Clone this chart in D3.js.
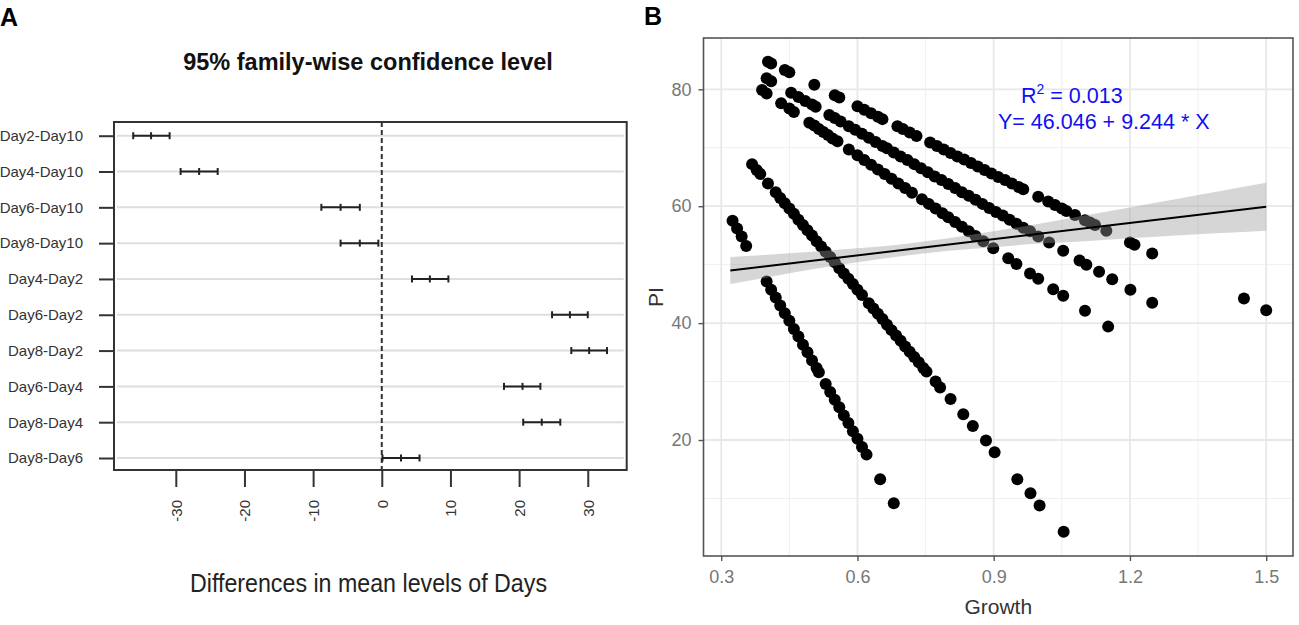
<!DOCTYPE html>
<html>
<head>
<meta charset="utf-8">
<script src="https://cdn.jsdelivr.net/npm/d3@7"></script>
<style>
body { margin: 0; background: #fff; }
svg text { font-family: "Liberation Sans", Arial, sans-serif; }
</style>
</head>
<body>
<div id="chart"></div>
<script>
// ---- panel A: Tukey HSD intervals ----
var comparisons = ["Day2-Day10", "Day4-Day10", "Day6-Day10", "Day8-Day10", "Day4-Day2",
                   "Day6-Day2", "Day8-Day2", "Day6-Day4", "Day8-Day4", "Day8-Day6"];
var diffs  = [-33.6, -26.6, -6.0, -3.2, 7.0, 27.4, 30.2, 20.5, 23.3, 2.8];
var lowers = [-36.2, -29.3, -8.8, -6.0, 4.4, 24.8, 27.6, 17.8, 20.6, 0.1];
var uppers = [-30.9, -23.9, -3.2, -0.5, 9.7, 30.0, 32.8, 23.1, 26.0, 5.5];
var diffTicks = [-30, -20, -10, 0, 10, 20, 30];

// ---- panel B: PI vs Growth ----
var stripeA = [[0.403,84.7],[0.41,84.4],[0.44,83.3],[0.45,82.9],[0.505,80.8],[0.55,79.0],[0.56,78.6],
  [0.60,77.1],[0.615,76.5],[0.63,75.9],[0.645,75.3],[0.655,74.9],[0.688,73.7],[0.70,73.2],[0.715,72.6],
  [0.73,72.0],[0.76,70.9],[0.775,70.3],[0.79,69.7],[0.805,69.1],[0.82,68.5],[0.835,68.0],[0.85,67.4],
  [0.865,66.8],[0.88,66.2],[0.895,65.6],[0.91,65.0],[0.925,64.5],[0.94,63.9],[0.955,63.3],[0.965,62.9],
  [0.998,61.6],[1.02,60.8],[1.035,60.2],[1.05,59.6],[1.06,59.2],[1.079,58.5],[1.101,57.6],[1.112,57.2],
  [1.123,56.8],[1.148,55.8],[1.20,53.8],[1.21,53.4],[1.249,51.9]];
var stripeB = [[0.40,81.9],[0.41,81.4],[0.454,79.4],[0.47,78.7],[0.485,78.0],[0.50,77.4],[0.508,77.0],
  [0.538,75.6],[0.55,75.1],[0.563,74.5],[0.581,73.7],[0.595,73.1],[0.61,72.4],[0.625,71.7],[0.64,71.0],
  [0.655,70.3],[0.665,69.9],[0.68,69.2],[0.695,68.5],[0.71,67.9],[0.725,67.2],[0.74,66.5],[0.755,65.8],
  [0.77,65.1],[0.785,64.5],[0.80,63.8],[0.815,63.1],[0.83,62.4],[0.845,61.8],[0.86,61.1],[0.875,60.4],
  [0.89,59.7],[0.905,59.0],[0.92,58.4],[0.935,57.7],[0.95,57.0],[0.965,56.3],[0.98,55.7],[0.998,54.8],
  [1.022,53.8],[1.053,52.4],[1.089,50.7],[1.104,50.0],[1.132,48.8],[1.161,47.5],[1.201,45.7],[1.249,43.5]];
var stripeC = [[0.39,79.9],[0.40,79.3],[0.432,77.6],[0.45,76.7],[0.46,76.1],[0.494,74.3],[0.505,73.8],
  [0.515,73.2],[0.525,72.7],[0.535,72.2],[0.545,71.6],[0.556,71.1],[0.581,69.7],[0.60,68.7],[0.615,67.9],
  [0.63,67.1],[0.645,66.3],[0.66,65.5],[0.675,64.7],[0.69,63.9],[0.705,63.1],[0.72,62.3],[0.742,61.2],
  [0.757,60.4],[0.772,59.6],[0.787,58.8],[0.80,58.1],[0.815,57.3],[0.83,56.5],[0.845,55.7],[0.86,54.9],
  [0.877,54.0],[0.899,52.8],[0.932,51.1],[0.95,50.1],[0.98,48.5],[0.998,47.6],[1.031,45.8],[1.053,44.7],
  [1.101,42.1],[1.152,39.4]];
var stripeD = [[0.368,67.2],[0.378,66.2],[0.386,65.5],[0.403,63.9],[0.42,62.4],[0.43,61.4],[0.44,60.5],
  [0.45,59.6],[0.46,58.7],[0.47,57.7],[0.48,56.8],[0.49,55.9],[0.50,55.0],[0.51,54.0],[0.52,53.1],
  [0.53,52.2],[0.54,51.3],[0.55,50.4],[0.56,49.4],[0.57,48.5],[0.58,47.6],[0.59,46.7],[0.60,45.7],
  [0.61,44.8],[0.625,43.4],[0.635,42.5],[0.645,41.6],[0.655,40.7],[0.665,39.7],[0.675,38.8],[0.685,37.9],
  [0.695,37.0],[0.705,36.0],[0.715,35.1],[0.725,34.2],[0.735,33.3],[0.745,32.3],[0.752,31.7],[0.772,30.0],
  [0.782,29.0],[0.805,27.0],[0.833,24.4],[0.854,22.4],[0.883,19.9],[0.902,17.9],[0.952,13.3],[0.981,10.9],
  [1.001,8.8],[1.054,4.3]];
var stripeE = [[0.325,57.5],[0.335,56.2],[0.345,54.8],[0.355,53.2],[0.40,47.1],[0.41,45.7],[0.42,44.4],
  [0.43,43.0],[0.44,41.7],[0.45,40.4],[0.46,39.0],[0.47,37.7],[0.48,36.3],[0.49,35.0],[0.50,33.6],
  [0.51,32.3],[0.515,31.6],[0.53,29.6],[0.54,28.2],[0.55,26.9],[0.56,25.6],[0.57,24.2],[0.58,22.9],
  [0.59,21.5],[0.60,20.2],[0.61,18.8],[0.62,17.5],[0.65,13.3],[0.68,9.2]];
var loners = [[1.451,44.2],[1.50,42.2]];

var bandGrowth = [0.32, 0.4, 0.5, 0.6, 0.7, 0.8, 0.9, 1.0, 1.1, 1.2, 1.3, 1.4, 1.5];
var bandLower  = [46.7, 47.8, 49.2, 50.4, 51.5, 52.4, 53.0, 53.6, 54.0, 54.5, 55.0, 55.4, 55.8];
var bandUpper  = [51.3, 51.7, 52.2, 52.8, 53.5, 54.5, 55.7, 57.0, 58.4, 59.8, 61.2, 62.6, 64.0];
var fitGrowth = [0.32, 1.5];
var fitPI = [49.0, 59.9];

var growthTicks = [0.3, 0.6, 0.9, 1.2, 1.5];
var growthMinor = [0.45, 0.75, 1.05, 1.35];
var piTicks = [20, 40, 60, 80];
var piMinor = [10, 30, 50, 70];

var width = 1299;
var height = 625;

var svg = d3.select("#chart")
    .append("svg")
    .attr("width", width)
    .attr("height", height)
    .style("background", "#fff");

drawTukey();
drawScatter();

function drawTukey() {
    var box = {left: 114, right: 626.7, top: 122, bottom: 470};

    var x = d3.scaleLinear().domain([-39.0, 35.67]).range([box.left, box.right]);
    var y = d3.scaleLinear().domain([0.617, 10.335]).range([box.top, box.bottom]);
    var rows = comparisons.map((c, i) => i + 1);

    var g = svg.append("g").attr("class", "panel-a");

    // light guide lines per comparison
    g.selectAll(".guide")
        .data(rows)
        .enter()
        .append("line")
        .attr("x1", box.left + 3)
        .attr("x2", box.right - 3)
        .attr("y1", d => y(d))
        .attr("y2", d => y(d))
        .attr("stroke", "#dedede")
        .attr("stroke-width", 2);

    // zero reference
    g.append("line")
        .attr("x1", x(0)).attr("x2", x(0))
        .attr("y1", box.top).attr("y2", box.bottom)
        .attr("stroke", "#333")
        .attr("stroke-width", 2)
        .attr("stroke-dasharray", "5,3");

    // intervals
    var bars = g.selectAll(".ci")
        .data(comparisons)
        .enter()
        .append("g")
        .attr("class", "ci")
        .attr("stroke", "#222")
        .attr("stroke-width", 2);

    bars.append("line")
        .attr("x1", (d, i) => x(lowers[i]))
        .attr("x2", (d, i) => x(uppers[i]))
        .attr("y1", (d, i) => y(i + 1))
        .attr("y2", (d, i) => y(i + 1));

    [lowers, diffs, uppers].forEach(function(vals) {
        bars.append("line")
            .attr("x1", (d, i) => x(vals[i]))
            .attr("x2", (d, i) => x(vals[i]))
            .attr("y1", (d, i) => y(i + 1) - 3.5)
            .attr("y2", (d, i) => y(i + 1) + 3.5);
    });

    g.append("rect")
        .attr("x", box.left).attr("y", box.top)
        .attr("width", box.right - box.left)
        .attr("height", box.bottom - box.top)
        .attr("fill", "none")
        .attr("stroke", "#333")
        .attr("stroke-width", 2);

    var yAxis = g.append("g")
        .attr("transform", `translate(${box.left},0)`)
        .call(d3.axisLeft(y).tickValues(rows).tickFormat(d => comparisons[d - 1]).tickSize(15).tickPadding(16));
    yAxis.select(".domain").remove();
    yAxis.selectAll("line").attr("stroke", "#333").attr("stroke-width", 2);
    yAxis.selectAll("text").attr("font-size", 15).attr("fill", "#333")
        .style("font-family", '"Liberation Sans", Arial, sans-serif');

    var xAxis = g.append("g")
        .attr("transform", `translate(0,${box.bottom})`)
        .call(d3.axisBottom(x).tickValues(diffTicks).tickFormat(d3.format("d")).tickSize(17));
    xAxis.select(".domain").remove();
    xAxis.selectAll("line").attr("stroke", "#333").attr("stroke-width", 2);
    xAxis.selectAll("text")
        .attr("transform", "rotate(-90)")
        .attr("text-anchor", "end")
        .attr("x", -30)
        .attr("y", 0)
        .attr("dy", "0.35em")
        .attr("font-size", 15)
        .attr("fill", "#333")
        .style("font-family", '"Liberation Sans", Arial, sans-serif')
        .text(d => String(d));

    svg.append("text")
        .attr("x", 368).attr("y", 70)
        .attr("text-anchor", "middle")
        .attr("font-size", 23.5)
        .attr("font-weight", "bold")
        .attr("fill", "#111")
        .text("95% family-wise confidence level");

    svg.append("text")
        .attr("x", 190).attr("y", 592)
        .attr("font-size", 26)
        .attr("textLength", 357)
        .attr("lengthAdjust", "spacingAndGlyphs")
        .attr("fill", "#222")
        .text("Differences in mean levels of Days");

    svg.append("text")
        .attr("x", 0).attr("y", 26)
        .attr("font-size", 25)
        .attr("font-weight", "bold")
        .text("A");
}

function drawScatter() {
    var panel = {left: 703.5, right: 1293, top: 38, bottom: 556};

    var x = d3.scaleLinear().domain([0.261, 1.559]).range([panel.left, panel.right]);
    var y = d3.scaleLinear().domain([0.155, 88.78]).range([panel.bottom, panel.top]);

    var g = svg.append("g").attr("class", "panel-b");

    g.append("rect")
        .attr("x", panel.left).attr("y", panel.top)
        .attr("width", panel.right - panel.left)
        .attr("height", panel.bottom - panel.top)
        .attr("fill", "#fff");

    // grid
    g.selectAll(".vminor").data(growthMinor).enter().append("line")
        .attr("x1", d => x(d)).attr("x2", d => x(d))
        .attr("y1", panel.top).attr("y2", panel.bottom)
        .attr("stroke", "#efefef").attr("stroke-width", 1);
    g.selectAll(".hminor").data(piMinor).enter().append("line")
        .attr("y1", d => y(d)).attr("y2", d => y(d))
        .attr("x1", panel.left).attr("x2", panel.right)
        .attr("stroke", "#efefef").attr("stroke-width", 1);
    g.selectAll(".vmajor").data(growthTicks).enter().append("line")
        .attr("x1", d => x(d)).attr("x2", d => x(d))
        .attr("y1", panel.top).attr("y2", panel.bottom)
        .attr("stroke", "#e8e8e8").attr("stroke-width", 1.8);
    g.selectAll(".hmajor").data(piTicks).enter().append("line")
        .attr("y1", d => y(d)).attr("y2", d => y(d))
        .attr("x1", panel.left).attr("x2", panel.right)
        .attr("stroke", "#e8e8e8").attr("stroke-width", 1.8);

    // points
    var points = [].concat(stripeA, stripeB, stripeC, stripeD, stripeE, loners);
    g.selectAll(".pt")
        .data(points)
        .enter()
        .append("circle")
        .attr("cx", d => x(d[0]))
        .attr("cy", d => y(d[1]))
        .attr("r", 6)
        .attr("fill", "#000");

    // smoother band and fitted line
    var band = d3.area()
        .x((d, i) => x(d))
        .y0((d, i) => y(bandLower[i]))
        .y1((d, i) => y(bandUpper[i]))
        .curve(d3.curveMonotoneX);
    g.append("path")
        .attr("d", band(bandGrowth))
        .attr("fill", "#999")
        .attr("fill-opacity", 0.4);

    var fit = d3.line().x((d, i) => x(d)).y((d, i) => y(fitPI[i]));
    g.append("path")
        .attr("d", fit(fitGrowth))
        .attr("fill", "none")
        .attr("stroke", "#000")
        .attr("stroke-width", 2);

    g.append("rect")
        .attr("x", panel.left).attr("y", panel.top)
        .attr("width", panel.right - panel.left)
        .attr("height", panel.bottom - panel.top)
        .attr("fill", "none")
        .attr("stroke", "#555")
        .attr("stroke-width", 1.6);

    var yAxis = g.append("g")
        .attr("transform", `translate(${panel.left},0)`)
        .call(d3.axisLeft(y).tickValues(piTicks).tickSize(5).tickPadding(7));
    yAxis.select(".domain").remove();
    yAxis.selectAll("line").attr("stroke", "#555").attr("stroke-width", 1.4);
    yAxis.selectAll("text").attr("font-size", 18).attr("fill", "#777")
        .style("font-family", '"Liberation Sans", Arial, sans-serif');

    var xAxis = g.append("g")
        .attr("transform", `translate(0,${panel.bottom})`)
        .call(d3.axisBottom(x).tickValues(growthTicks).tickFormat(d3.format(".1f")).tickSize(5).tickPadding(9));
    xAxis.select(".domain").remove();
    xAxis.selectAll("line").attr("stroke", "#555").attr("stroke-width", 1.4);
    xAxis.selectAll("text").attr("font-size", 18).attr("fill", "#777")
        .style("font-family", '"Liberation Sans", Arial, sans-serif');

    svg.append("text")
        .attr("x", (panel.left + panel.right) / 2).attr("y", 614)
        .attr("text-anchor", "middle")
        .attr("font-size", 21)
        .attr("fill", "#333")
        .text("Growth");

    svg.append("text")
        .attr("transform", `translate(663,${(panel.top + panel.bottom) / 2}) rotate(-90)`)
        .attr("text-anchor", "middle")
        .attr("font-size", 21)
        .attr("fill", "#333")
        .text("PI");

    // annotation
    var r2 = svg.append("text")
        .attr("x", 1021).attr("y", 103)
        .attr("font-size", 21.5)
        .attr("fill", "#1010f0");
    r2.append("tspan").text("R");
    r2.append("tspan").attr("font-size", 14).attr("dy", -9).text("2");
    r2.append("tspan").attr("dy", 9).text(" = 0.013");

    svg.append("text")
        .attr("x", 998).attr("y", 129)
        .attr("font-size", 21.5)
        .attr("fill", "#1010f0")
        .text("Y= 46.046 + 9.244 * X");

    svg.append("text")
        .attr("x", 644).attr("y", 25)
        .attr("font-size", 25)
        .attr("font-weight", "bold")
        .text("B");
}
</script>
</body>
</html>
